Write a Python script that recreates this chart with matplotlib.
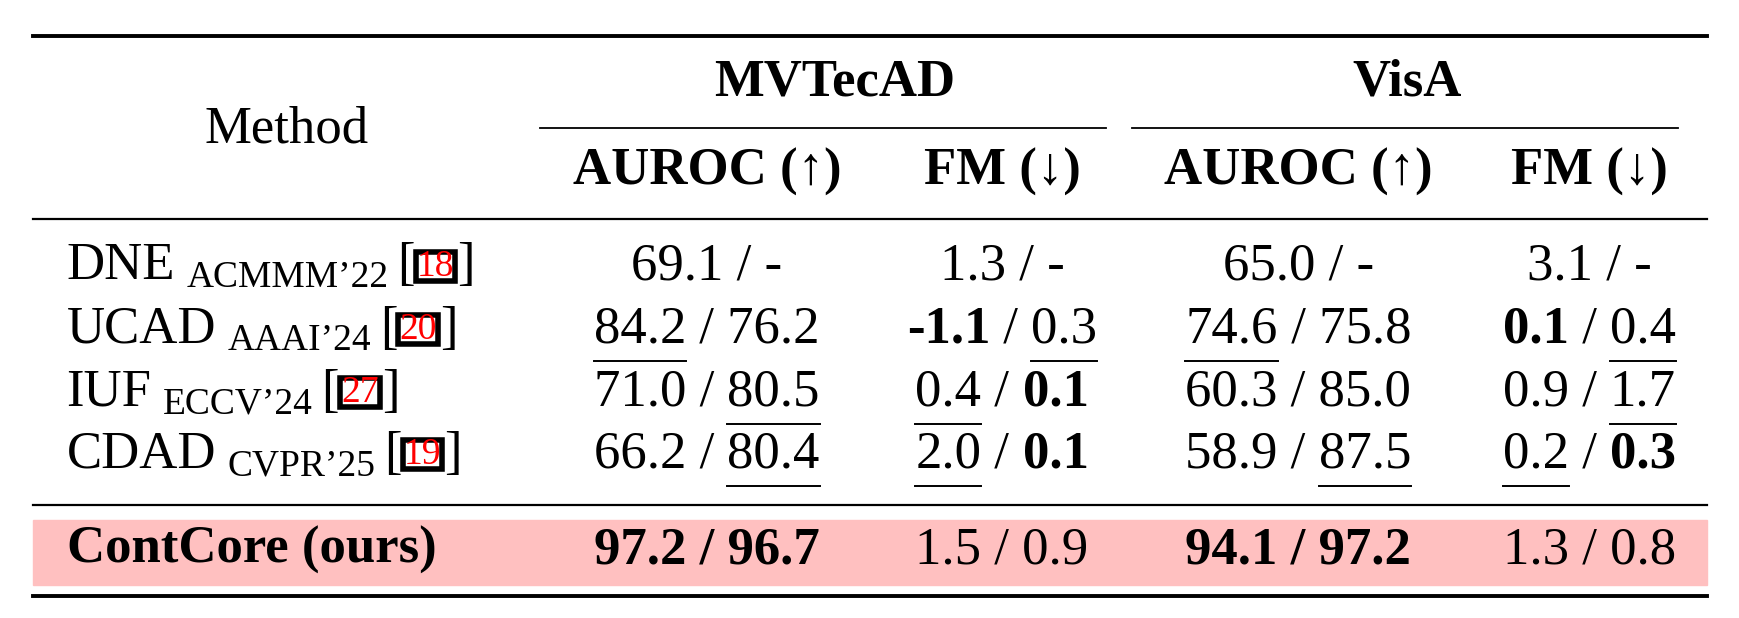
import matplotlib
matplotlib.use("Agg")
import matplotlib.pyplot as plt
from matplotlib.patches import Rectangle

methods = ["DNE", "UCAD", "IUF", "CDAD"]
venues = ["ACMMM\u201922", "AAAI\u201924", "ECCV\u201924", "CVPR\u201925"]
cites = ["18", "20", "27", "19"]
# markup: **bold**, __underline__
mv_auroc = ["69.1 / -", "__84.2__ / 76.2", "71.0 / __80.5__", "66.2 / __80.4__"]
mv_fm = ["1.3 / -", "**-1.1** / __0.3__", "__0.4__ / **0.1**", "__2.0__ / **0.1**"]
visa_auroc = ["65.0 / -", "__74.6__ / 75.8", "60.3 / 85.0", "58.9 / __87.5__"]
visa_fm = ["3.1 / -", "**0.1** / __0.4__", "0.9 / __1.7__", "__0.2__ / **0.3**"]
ours = ["**97.2 / 96.7**", "1.5 / 0.9", "**94.1 / 97.2**", "1.3 / 0.8"]

FONT = "Liberation Serif"
FS = 38
fig = plt.figure(figsize=(17.4, 6.18), dpi=100)
ax = fig.add_axes([0, 0, 1, 1])
ax.set_xlim(0, 1568); ax.set_ylim(557, 0); ax.axis("off")
fig.canvas.draw()
r = fig.canvas.get_renderer()
SC = 1568 / 1740  # pixel -> data

def width(t, bold=False, fs=FS):
    tt = ax.text(0, 0, t, fontsize=fs, family=FONT, fontweight="bold" if bold else "normal")
    bb = tt.get_window_extent(r); tt.remove()
    return bb.width * SC

def parse(s):
    segs = []; bold = False; ul = False; buf = ""; i = 0
    while i < len(s):
        if s[i:i+2] in ("**", "__"):
            if buf: segs.append((buf, bold, ul)); buf = ""
            if s[i] == "*": bold = not bold
            else: ul = not ul
            i += 2
        else:
            buf += s[i]; i += 1
    if buf: segs.append((buf, bold, ul))
    return segs

def cell(s, xc, y):
    segs = parse(s)
    ws = [width(t, b) for t, b, u in segs]
    x = xc - sum(ws) / 2
    for (t, b, u), w in zip(segs, ws):
        ax.text(x, y, t, fontsize=FS, family=FONT, fontweight="bold" if b else "normal", va="center", ha="left")
        if u:
            ax.plot([x, x + w], [y + 28, y + 28], color="black", lw=1.4)
        x += w

cols = [637, 903, 1170, 1432]
ax.plot([30, 1538], [32, 32], color="black", lw=2.8)
ax.plot([30, 1538], [197, 197], color="black", lw=1.6)
ax.plot([30, 1538], [455, 455], color="black", lw=1.6)
ax.plot([30, 1538], [537, 537], color="black", lw=2.8)
ax.plot([487, 997], [115, 115], color="black", lw=1.3)
ax.plot([1020, 1512], [115, 115], color="black", lw=1.3)
ax.add_patch(Rectangle((30, 469), 1508, 58, color="#ffc0c0", zorder=0))

ax.text(258, 117, "Method", fontsize=FS, family=FONT, ha="center", va="center")
ax.text(752, 74, "MVTecAD", fontsize=FS, family=FONT, fontweight="bold", ha="center", va="center")
ax.text(1268, 74, "VisA", fontsize=FS, family=FONT, fontweight="bold", ha="center", va="center")
for xc, t in zip(cols, ["AUROC (\u2191)", "FM (\u2193)", "AUROC (\u2191)", "FM (\u2193)"]):
    ax.text(xc, 155, t, fontsize=FS, family=FONT, fontweight="bold", ha="center", va="center")

rows_y = [240, 297, 354, 410]
for i, y in enumerate(rows_y):
    x = 60
    ax.text(x, y, methods[i], fontsize=FS, family=FONT, va="center")
    x += width(methods[i]) + 10
    ax.text(x, y + 10, venues[i], fontsize=27, family=FONT, va="center")
    x += width(venues[i], fs=27) + 8
    ax.text(x, y, "[", fontsize=FS, family=FONT, va="center")
    x += width("[") + 1
    wc = width(cites[i], fs=27)
    ax.add_patch(Rectangle((x, y - 13), wc + 2, 26, fill=False, ec="black", lw=4))
    ax.text(x + 1, y, cites[i], fontsize=27, family=FONT, color="red", va="center")
    x += wc + 4
    ax.text(x, y, "]", fontsize=FS, family=FONT, va="center")
    for xc, data in zip(cols, [mv_auroc, mv_fm, visa_auroc, visa_fm]):
        cell(data[i], xc, y)

ax.text(60, 496, "ContCore (ours)", fontsize=FS, family=FONT, fontweight="bold", va="center")
for xc, s in zip(cols, ours):
    cell(s, xc, 496)

fig.savefig("out.png", dpi=100)
